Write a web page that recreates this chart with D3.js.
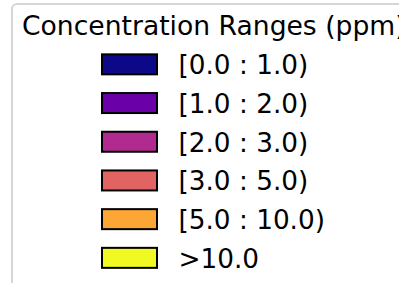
<!DOCTYPE html>
<html>
<head>
<meta charset="utf-8">
<script src="https://cdn.jsdelivr.net/npm/d3@7"></script>
<style>
  html, body { margin: 0; padding: 0; background: #fff; overflow: hidden; }
  svg { display: block; }
</style>
</head>
<body>
<svg id="chart" width="399" height="283"></svg>
<script>
const legendTitle = "Concentration Ranges (ppm)";
const rangeLabels = ["[0.0 : 1.0)", "[1.0 : 2.0)", "[2.0 : 3.0)", "[3.0 : 5.0)", "[5.0 : 10.0)", ">10.0"];
const rangeColors = ["#0d0887", "#6a00a8", "#b12a90", "#e16462", "#fca636", "#f0f921"];

const svg = d3.select("#chart");
const font = "'DejaVu Sans', sans-serif";

// legend frame
svg.append("rect")
  .attr("x", 12).attr("y", 4)
  .attr("width", 420).attr("height", 300)
  .attr("rx", 5).attr("ry", 5)
  .attr("fill", "#fff")
  .attr("stroke", "#d6d6d6")
  .attr("stroke-width", 2);

svg.append("text")
  .attr("x", 22).attr("y", 34.5)
  .attr("font-family", font).attr("font-size", 26.6)
  .attr("fill", "#000")
  .text(legendTitle);

const y = d3.scaleBand()
  .domain(rangeLabels)
  .range([45, 45 + 38.7 * rangeLabels.length])
  .paddingInner(0).paddingOuter(0);

const rows = svg.selectAll("g.row")
  .data(rangeLabels)
  .join("g")
  .attr("class", "row")
  .attr("transform", d => `translate(0,${y(d) + y.bandwidth() / 2})`);

rows.append("rect")
  .attr("x", 102).attr("y", -10)
  .attr("width", 55).attr("height", 20)
  .attr("fill", (d, i) => rangeColors[i])
  .attr("stroke", "#000")
  .attr("stroke-width", 2);

rows.append("text")
  .attr("x", 178.5).attr("y", 10)
  .attr("font-family", font).attr("font-size", 26.3)
  .attr("fill", "#000")
  .text(d => d);
</script>
</body>
</html>
